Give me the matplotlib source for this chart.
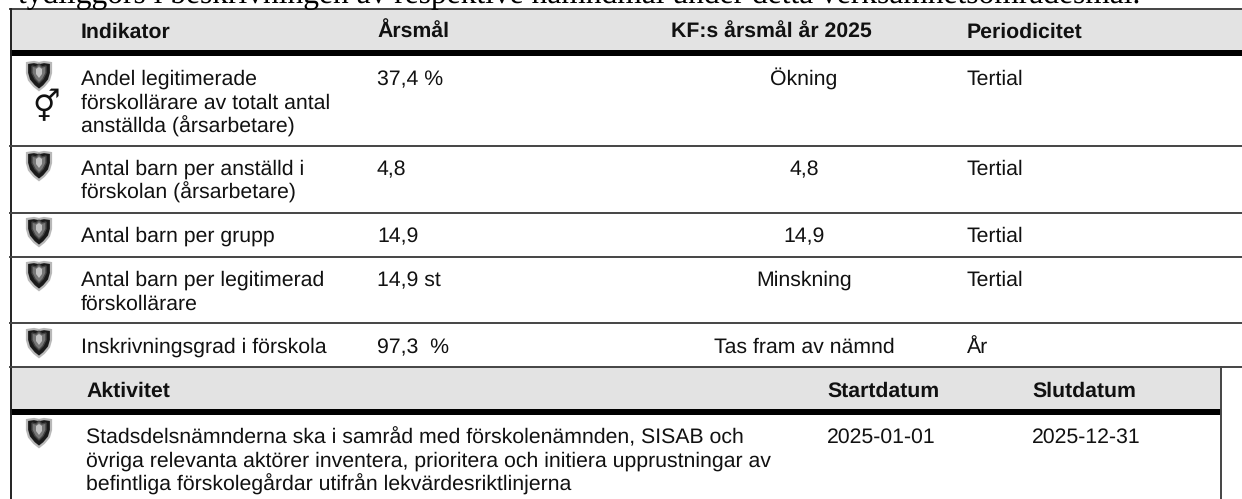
import matplotlib
matplotlib.use("Agg")
import matplotlib.pyplot as plt
from matplotlib.patches import Polygon, Rectangle

plt.rcParams["text.hinting"] = "none"
plt.rcParams["text.hinting_factor"] = 8

W, H = 1242, 499
SANS = "Liberation Sans"
SERIF = "Liberation Serif"

intro = "tydliggörs i beskrivningen av respektive nämndmål under detta verksamhetsområdesmål."
headers = ["Indikator", "Årsmål", "KF:s årsmål år 2025", "Periodicitet"]
indicators = [
    "Andel legitimerade\nförskollärare av totalt antal\nanställda (årsarbetare)",
    "Antal barn per anställd i\nförskolan (årsarbetare)",
    "Antal barn per grupp",
    "Antal barn per legitimerad\nförskollärare",
    "Inskrivningsgrad i förskola",
]
goals = ["37,4 %", "4,8", "14,9", "14,9 st", "97,3  %"]
kf_goals = ["Ökning", "4,8", "14,9", "Minskning", "Tas fram av nämnd"]
periods = ["Tertial", "Tertial", "Tertial", "Tertial", "År"]
act_headers = ["Aktivitet", "Startdatum", "Slutdatum"]
activity = ("Stadsdelsnämnderna ska i samråd med förskolenämnden, SISAB och\n"
            "övriga relevanta aktörer inventera, prioritera och initiera upprustningar av\n"
            "befintliga förskolegårdar utifrån lekvärdesriktlinjerna")
act_start = "2025-01-01"
act_end = "2025-12-31"

row_lines = [146, 213, 257, 323, 367]
row_base = [85, 175, 242, 286, 353]
row_icon = [62, 152, 218, 262, 329]

fig = plt.figure(figsize=(W / 100, H / 100), dpi=100)
ax = fig.add_axes([0, 0, 1, 1])
ax.set_xlim(0, W)
ax.set_ylim(H, 0)
ax.axis("off")

FS = 15.3
STEP = 23.6
LINE = "#444444"


def label(x, y, s, bold=False, ha="left"):
    for k, part in enumerate(s.split("\n")):
        ax.text(x, y + k * STEP, part, fontsize=FS, family=SANS, color="#111111", ha=ha,
                va="baseline", fontweight="bold" if bold else "normal")


def shield(cx, top):
    outer = [(-12, 1), (-5, 0), (0, 1), (5, 0), (12, 1), (12, 11), (10, 18), (5, 24), (0, 28),
             (-5, 24), (-10, 18), (-12, 11)]
    mid = [(-7, 4), (-3, 5), (0, 2), (3, 5), (7, 4), (7, 11), (4, 17), (0, 21), (-4, 17), (-7, 11)]
    core = [(-3, 7), (0, 5), (3, 7), (3, 12), (0, 16), (-3, 12)]
    ax.add_patch(Polygon([(cx + a, top + b) for a, b in outer], closed=True, fc="#1a1a1a", ec="#b8b8b8", lw=1.6))
    ax.add_patch(Polygon([(cx + a, top + b) for a, b in mid], closed=True, fc="#777777", ec="#444444", lw=1))
    ax.add_patch(Polygon([(cx + a, top + b) for a, b in core], closed=True, fc="#c4c4c4", ec="none"))


ax.text(18, 3, intro, fontsize=22.7, family=SERIF, color="black", ha="left", va="baseline")

ax.add_patch(Rectangle((10, 9), W - 10, 41, fc="#e3e3e3", ec="none"))
ax.add_patch(Rectangle((10, 50), W - 10, 6, fc="black", ec="none"))
ax.add_patch(Rectangle((10, 367), 1211, 42, fc="#e3e3e3", ec="none"))
ax.add_patch(Rectangle((10, 409), 1211, 6, fc="black", ec="none"))
ax.plot([10, W], [9, 9], color=LINE, lw=1.4)
ax.plot([10.5, 10.5], [9, H], color="#222222", lw=1.4)
ax.plot([1221, 1221], [367, H], color=LINE, lw=1.4)
for y in row_lines:
    ax.plot([10, W], [y, y], color=LINE, lw=1.4)

label(81, 38, headers[0], bold=True)
label(377, 38, headers[1], bold=True)
label(771, 38, headers[2], bold=True, ha="center")
label(967, 38, headers[3], bold=True)

for i in range(5):
    shield(39, row_icon[i])
    label(81, row_base[i], indicators[i])
    label(377, row_base[i], goals[i])
    label(804, row_base[i], kf_goals[i], ha="center")
    label(967, row_base[i], periods[i])

ax.text(46, 107, "\u26a5", fontsize=22, family="DejaVu Sans", color="#111111", ha="center", va="center")

label(86, 397, act_headers[0], bold=True)
label(827, 397, act_headers[1], bold=True)
label(1032, 397, act_headers[2], bold=True)
shield(39, 419)
label(86, 443, activity)
label(827, 443, act_start)
label(1032, 443, act_end)

fig.savefig("out.png", dpi=100)
